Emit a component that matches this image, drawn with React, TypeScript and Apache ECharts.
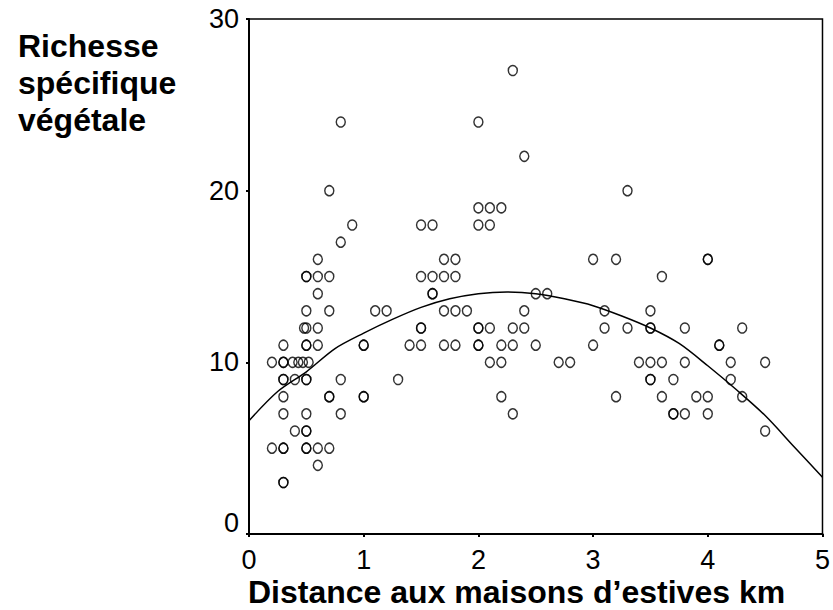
import React, { useEffect, useRef } from "react";
import * as echarts from "echarts";

// Scatter observations: distance (km) and species richness
const distances: number[] = [
  0.8, 0.7, 0.9, 0.8, 0.6,
  0.5, 0.5, 0.6, 0.7,
  0.6,
  0.5, 0.7,
  0.48, 0.5, 0.6,
  0.3, 0.5, 0.5, 0.6,
  0.2, 0.3, 0.3, 0.38, 0.43, 0.47, 0.52,
  0.3, 0.3, 0.4, 0.5, 0.5, 0.8,
  0.3, 0.7, 0.7,
  0.3, 0.5, 0.8,
  0.4, 0.5, 0.5,
  0.2, 0.3, 0.3, 0.5, 0.5, 0.6, 0.7,
  0.6,
  0.3, 0.3,
  1.0, 1.0, 1.0, 1.0, 1.3, 1.1, 1.2,
  1.4, 1.5,
  1.5, 1.6, 1.5, 1.6, 1.7, 1.8,
  1.7, 1.8,
  1.6, 1.6,
  1.5, 1.5,
  1.7, 1.8, 1.9,
  1.7, 1.8,
  2.0, 2.3, 2.4,
  2.0, 2.1, 2.2,
  2.0, 2.1,
  2.5, 2.6,
  2.4,
  2.0, 2.0, 2.1, 2.3, 2.4,
  2.0, 2.0, 2.2, 2.3, 2.5,
  2.1, 2.2, 2.7, 2.8,
  2.2, 2.3,
  3.0, 3.2, 3.3, 4.0, 4.0, 3.6,
  3.1, 3.5,
  3.1, 3.3, 3.5, 3.5, 3.8, 4.3,
  3.0, 4.1, 4.1,
  3.4, 3.5, 3.6, 3.8, 4.2, 4.5,
  3.5, 3.5, 3.7, 4.2,
  3.2, 3.6, 3.9, 4.0, 4.3,
  3.7, 3.7, 3.8, 4.0,
  4.5,
];

const richness: number[] = [
  24, 20, 18, 17, 16,
  15, 15, 15, 15,
  14,
  13, 13,
  12, 12, 12,
  11, 11, 11, 11,
  10, 10, 10, 10, 10, 10, 10,
  9, 9, 9, 9, 9, 9,
  8, 8, 8,
  7, 7, 7,
  6, 6, 6,
  5, 5, 5, 5, 5, 5, 5,
  4,
  3, 3,
  11, 11, 8, 8, 9, 13, 13,
  11, 11,
  18, 18, 15, 15, 15, 15,
  16, 16,
  14, 14,
  12, 12,
  13, 13, 13,
  11, 11,
  24, 27, 22,
  19, 19, 19,
  18, 18,
  14, 14,
  13,
  12, 12, 12, 12, 12,
  11, 11, 11, 11, 11,
  10, 10, 10, 10,
  8, 7,
  16, 16, 20, 16, 16, 15,
  13, 13,
  12, 12, 12, 12, 12, 12,
  11, 11, 11,
  10, 10, 10, 10, 10, 10,
  9, 9, 9, 9,
  8, 8, 8, 8, 8,
  7, 7, 7, 7,
  6,
];

// Fitted curve
const fitX: number[] = [0, 0.25, 0.5, 0.75, 1.0, 1.25, 1.5, 1.75, 2.0, 2.25, 2.5, 2.75, 3.0, 3.25, 3.5, 3.75, 4.0, 4.25, 4.5, 4.75, 5.0];
const fitY: number[] = [6.6, 8.3, 9.45, 10.8, 11.7, 12.5, 13.2, 13.7, 14.0, 14.1, 14.0, 13.7, 13.3, 12.7, 12.0, 11.1, 9.8, 8.4, 6.9, 5.1, 3.3];

const xTicks = { min: 0, max: 5, interval: 1 };
const yTicks = { min: 0, max: 30, interval: 10 };

const yTitle = "Richesse\nspécifique\nvégétale";
const xTitle = "Distance aux maisons d\u2019estives km";

export default function App() {
  const ref = useRef<HTMLDivElement>(null);
  useEffect(() => {
    if (!ref.current) return;
    const chart = echarts.init(ref.current, undefined, { renderer: "svg" });
    const font = "'Liberation Sans', Arial, sans-serif";
    chart.setOption({
      animation: false,
      backgroundColor: "#ffffff",
      grid: {
        left: 249,
        top: 19,
        right: 8,
        bottom: 76,
        show: true,
        borderColor: "#000",
        borderWidth: 1.5,
        backgroundColor: "transparent",
      },
      xAxis: {
        type: "value",
        min: xTicks.min,
        max: xTicks.max,
        interval: xTicks.interval,
        splitLine: { show: false },
        axisLine: { show: true, lineStyle: { color: "#000", width: 2 } },
        axisTick: { show: true, length: 3, lineStyle: { color: "#000", width: 2 } },
        axisLabel: { color: "#000", fontSize: 27, fontFamily: font, margin: 12 },
      },
      yAxis: {
        type: "value",
        min: yTicks.min,
        max: yTicks.max,
        interval: yTicks.interval,
        splitLine: { show: false },
        axisLine: { show: true, lineStyle: { color: "#000", width: 2 } },
        axisTick: { show: true, length: 3, lineStyle: { color: "#000", width: 2 } },
        axisLabel: {
          color: "#000",
          fontSize: 27,
          fontFamily: font,
          margin: 10,
          formatter: (v: number) => (v === 0 ? "{z|0}" : String(v)),
          rich: { z: { fontSize: 27, fontFamily: font, color: "#000", padding: [0, 0, 22, 0] } },
        },
      },
      graphic: [
        {
          type: "text",
          left: 18,
          top: 27,
          style: {
            text: yTitle,
            font: `bold 32px ${font}`,
            fill: "#000",
            lineHeight: 37,
          },
        },
        {
          type: "text",
          left: 248,
          top: 576,
          style: {
            text: xTitle,
            font: `bold 32px ${font}`,
            fill: "#000",
            lineHeight: 32,
          },
        },
      ],
      series: [
        {
          type: "line",
          data: fitX.map((x, i) => [x, fitY[i]]),
          showSymbol: false,
          smooth: 0.3,
          lineStyle: { color: "#000", width: 1.5 },
          z: 3,
        },
        {
          type: "scatter",
          data: distances.map((x, i) => [x, richness[i]]),
          symbol: "circle",
          symbolSize: [9, 10],
          itemStyle: { color: "transparent", borderColor: "#000", borderWidth: 1.5 },
          z: 4,
        },
      ],
    });
    return () => chart.dispose();
  }, []);
  return (
    <div
      ref={ref}
      style={{ position: "fixed", left: 0, top: 0, width: 833, height: 610, background: "#fff" }}
    />
  );
}
